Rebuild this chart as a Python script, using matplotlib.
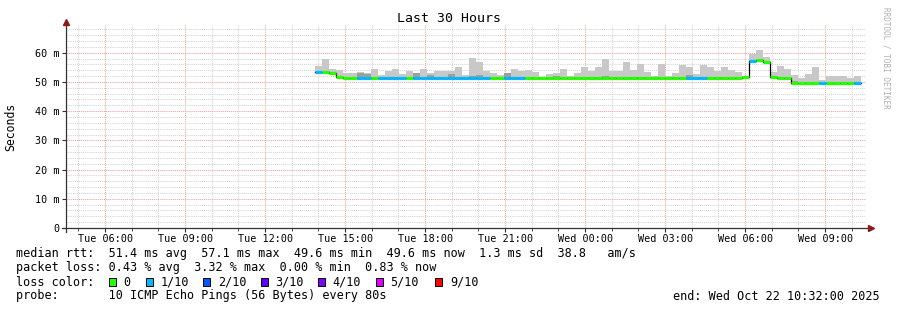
import numpy as np
import matplotlib
matplotlib.use("Agg")
import matplotlib.pyplot as plt
from matplotlib.patches import Rectangle

plt.rcParams['font.family'] = 'DejaVu Sans Mono'

# time axis: hours since Tue 04:32 (window = last 30 hours)
start_hour = 9.32        # first sample, approx Tue 13:51
step_hours = 0.2625      # consolidation step

# median rtt (ms) per step
median = [53.3, 53.3, 53.0, 51.8, 51.2, 51.2, 51.3, 51.3, 51.2, 51.2,
          51.2, 51.2, 51.2, 51.2, 51.2, 51.2, 51.2, 51.2, 51.2, 51.2,
          51.2, 51.2, 51.2, 51.2, 51.2, 51.2, 51.2, 51.2, 51.2, 51.2,
          51.4, 51.2, 51.2, 51.2, 51.2, 51.2, 51.2, 51.2, 51.2, 51.2,
          51.2, 51.2, 51.2, 51.2, 51.2, 51.2, 51.2, 51.2, 51.2, 51.2,
          51.2, 51.2, 51.2, 51.2, 51.2, 51.2, 51.2, 51.2, 51.2, 51.2,
          51.2, 51.7, 57.2, 57.5, 57.0, 51.7, 51.3, 51.3, 49.6, 49.6,
          49.6, 49.6, 49.6, 49.6, 49.6, 49.6, 49.6, 49.6]

# lost pings out of 10 per step
loss = [1, 0, 0, 0, 0, 0, 1, 1, 0, 1,
        1, 1, 1, 0, 1, 1, 1, 1, 1, 1,
        1, 1, 1, 1, 1, 0, 0, 1, 1, 1,
        0, 0, 0, 0, 0, 0, 0, 0, 0, 0,
        0, 0, 0, 0, 0, 0, 0, 0, 0, 0,
        0, 0, 0, 1, 1, 1, 0, 0, 0, 0,
        0, 0, 1, 0, 0, 0, 0, 0, 0, 0,
        0, 0, 1, 0, 0, 0, 0, 1]

# smoke: highest ping per step (ms)
smoke_top = [55.6, 57.7, 54.5, 54.1, 52.9, 52.9, 53.3, 53.1, 54.5, 52.4,
             53.6, 54.3, 52.6, 53.6, 52.9, 54.5, 52.9, 53.6, 53.8, 53.8,
             55.2, 52.5, 58.2, 56.8, 53.8, 52.9, 52.4, 52.1, 54.5, 53.6,
             54.2, 53.3, 51.8, 52.6, 53.0, 54.5, 52.2, 53.1, 55.2, 53.6,
             55.0, 57.7, 53.6, 53.6, 56.8, 54.1, 56.0, 53.3, 51.9, 56.0,
             52.2, 53.1, 55.7, 55.0, 52.6, 55.7, 55.2, 53.6, 55.2, 54.0,
             53.3, 52.2, 59.5, 61.0, 58.6, 53.3, 55.4, 54.5, 52.4, 51.5,
             52.6, 55.0, 50.6, 52.0, 52.0, 52.2, 51.2, 52.2]

# smoke: denser (darker) part near the median, 0 = none
smoke_dark = [0, 0, 0, 0, 0, 0, 53.2, 52.6, 0, 0,
              0, 0, 0, 0, 52.9, 0, 52.4, 0, 0, 52.7,
              0, 0, 52.0, 52.3, 0, 0, 0, 52.9, 0, 0,
              0, 0, 0, 0, 52.1, 0, 0, 0, 0, 0,
              0, 52.0, 0, 0, 0, 0, 51.8, 0, 0, 0,
              0, 0, 0, 52.3, 0, 0, 0, 0, 0, 0,
              0, 0, 0, 0, 0, 0, 0, 0, 50.4, 0,
              0, 0, 0, 0, 0, 0, 0, 0]

loss_labels = ["0", "1/10", "2/10", "3/10", "4/10", "5/10", "9/10"]
loss_colors = ["#26ff00", "#00b8ff", "#0059ff", "#5e00ff", "#7e00ff", "#dd00ff", "#ff0000"]

xtick_hours = [1.4667 + 3 * i for i in range(10)]
xtick_labels = ["Tue 06:00", "Tue 09:00", "Tue 12:00", "Tue 15:00", "Tue 18:00",
                "Tue 21:00", "Wed 00:00", "Wed 03:00", "Wed 06:00", "Wed 09:00"]

W, H = 897, 310
fig = plt.figure(figsize=(W / 100, H / 100), dpi=100)
fig.patch.set_facecolor("white")
ax = fig.add_axes([66 / W, (H - 228) / H, 800 / W, (228 - 25) / H])
ax.set_facecolor("white")

t = start_hour + step_hours * np.arange(len(median))
med = np.array(median)
top = np.array(smoke_top)
dark = np.array(smoke_dark)

# smoke
ax.bar(t, top - med, bottom=med, width=step_hours, align="edge",
       color="#c8c8c8", linewidth=0, zorder=2)
has_dark = dark > 0
ax.bar(t[has_dark], dark[has_dark] - med[has_dark], bottom=med[has_dark],
       width=step_hours, align="edge", color="#9e9e9e", linewidth=0, zorder=2)

# median line: black steps, coloured by loss
ax.step(np.append(t, t[-1] + step_hours), np.append(med, med[-1]), where="post",
        color="black", lw=0.9, zorder=3)
seg_colors = [loss_colors[["0", "1/10", "2/10", "3/10", "4/10", "5/10", "9/10"].index(
    "0" if l == 0 else f"{l}/10")] for l in loss]
ax.hlines(med, t, t + step_hours, colors=seg_colors, lw=2.3, zorder=4)

ax.set_xlim(0, 30)
ax.set_ylim(0, 69.5)

# grid
dot = (0, (1, 1))
for h in range(0, 31):
    hh = 0.4667 + h
    if hh >= 30:
        break
    is_major = any(abs(hh - m) < 1e-3 for m in xtick_hours)
    ax.axvline(hh, color="#f0a0a0" if is_major else "#d4d4d4", lw=0.75,
               linestyle=dot, zorder=1)
for v in range(2, 70, 2):
    ax.axhline(v, color="#f0a0a0" if v % 10 == 0 else "#d4d4d4", lw=0.75,
               linestyle=dot, zorder=1)

ax.set_xticks(xtick_hours)
ax.set_xticklabels(xtick_labels, fontsize=7.3)
ax.set_xticks([0.4667 + h for h in range(30)], minor=True)
yt = list(range(0, 70, 10))
ax.set_yticks(yt)
ax.set_yticklabels(["0" if v == 0 else f"{v} m" for v in yt], fontsize=7.3)
ax.tick_params(axis="both", which="major", length=3, width=0.8, color="#333333", pad=1.5)
ax.tick_params(axis="x", which="minor", length=2, width=0.6, color="#333333")
ax.tick_params(axis="y", which="major", pad=2)
for s in ax.spines.values():
    s.set_visible(False)

# axes with arrows
ax.plot([-4 / 800, 1.005], [0, 0], transform=ax.transAxes, color="#333333",
        lw=0.9, clip_on=False, zorder=5)
ax.plot([0, 0], [-4 / 203, 1.0], transform=ax.transAxes, color="#333333",
        lw=0.9, clip_on=False, zorder=5)
ax.plot([1.0065], [0], transform=ax.transAxes, marker=">", color="#8b1a1a",
        markersize=4, clip_on=False, zorder=6)
ax.plot([0], [1.015], transform=ax.transAxes, marker="^", color="#8b1a1a",
        markersize=4, clip_on=False, zorder=6)

fig.text(448.5 / W, 1 - 19 / H, "Last 30 Hours", ha="center", va="center", fontsize=9.5)
fig.text(11 / W, 1 - 127 / H, "Seconds", rotation=90, ha="center", va="center", fontsize=8.3)
fig.text(886 / W, 1 - 58 / H, "RRDTOOL / TOBI OETIKER", rotation=-90, ha="center",
         va="center", fontsize=5.5, color="#b0b0b0")

lines = [
    (254, "median rtt:  51.4 ms avg  57.1 ms max  49.6 ms min  49.6 ms now  1.3 ms sd  38.8   am/s"),
    (268, "packet loss: 0.43 % avg  3.32 % max  0.00 % min  0.83 % now"),
    (282, "loss color:"),
    (296, "probe:       10 ICMP Echo Pings (56 Bytes) every 80s"),
]
for y, s in lines:
    fig.text(16 / W, 1 - y / H, s, ha="left", va="center", fontsize=8.5)

box_x = [108.5, 145.7, 203.3, 260.7, 318.3, 376.0, 435.3]
for bx, lab, col in zip(box_x, loss_labels, loss_colors):
    fig.patches.append(Rectangle((bx / W, 1 - 286 / H), 7 / W, 8 / H, transform=fig.transFigure,
                                 facecolor=col, edgecolor="black", lw=0.7, figure=fig))
    fig.text((bx + 14.5) / W, 1 - 282 / H, lab, ha="left", va="center", fontsize=8.5)

fig.text(880 / W, 1 - 296 / H, "end: Wed Oct 22 10:32:00 2025", ha="right", va="center",
         fontsize=8.5)

fig.savefig("out.png", dpi=100)
